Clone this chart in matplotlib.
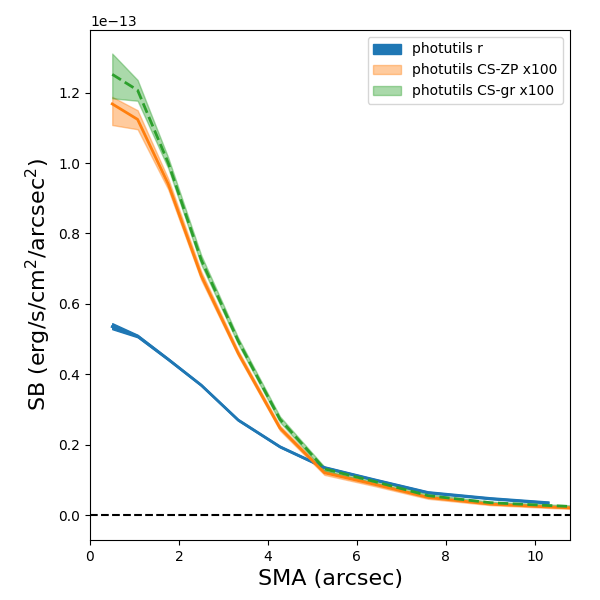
import numpy as np
import matplotlib
matplotlib.use("Agg")
import matplotlib.pyplot as plt

# semi-major axis points (arcsec)
sma_r = [0.5, 1.07, 1.76, 2.5, 3.33, 4.27, 5.27, 6.4, 7.6, 9.0, 10.3]
sma_cs = [0.5, 1.07, 1.76, 2.5, 3.33, 4.27, 5.27, 6.4, 7.6, 9.0, 10.3, 11.8]

# surface brightness, units of 1e-13 erg/s/cm^2/arcsec^2
sb_r = [0.535, 0.508, 0.442, 0.369, 0.270, 0.194, 0.135, 0.100, 0.064, 0.047, 0.035]
sb_r_lo = [0.528, 0.505, 0.440, 0.367, 0.268, 0.192, 0.133, 0.098, 0.062, 0.045, 0.033]
sb_r_hi = [0.545, 0.512, 0.445, 0.371, 0.272, 0.196, 0.137, 0.102, 0.066, 0.049, 0.037]

sb_zp = [1.168, 1.124, 0.940, 0.680, 0.460, 0.247, 0.120, 0.087, 0.050, 0.031, 0.023, 0.015]
sb_zp_lo = [1.108, 1.096, 0.925, 0.668, 0.452, 0.240, 0.114, 0.082, 0.046, 0.028, 0.020, 0.012]
sb_zp_hi = [1.188, 1.150, 0.955, 0.692, 0.468, 0.254, 0.126, 0.092, 0.054, 0.034, 0.026, 0.018]

sb_gr = [1.252, 1.207, 1.000, 0.725, 0.495, 0.272, 0.131, 0.095, 0.055, 0.035, 0.027, 0.019]
sb_gr_lo = [1.184, 1.177, 0.985, 0.712, 0.486, 0.264, 0.125, 0.090, 0.051, 0.032, 0.024, 0.016]
sb_gr_hi = [1.311, 1.236, 1.015, 0.738, 0.504, 0.280, 0.137, 0.100, 0.059, 0.038, 0.030, 0.022]

scale = 1e-13

fig = plt.figure(figsize=(6, 6), dpi=100)
ax = fig.add_axes([0.15, 0.1, 0.8, 0.85])

ax.fill_between(sma_r, np.array(sb_r_lo) * scale, np.array(sb_r_hi) * scale,
                color='C0', alpha=1.0, label='photutils r')
ax.plot(sma_r, np.array(sb_r) * scale, color='C0', lw=2)

ax.fill_between(sma_cs, np.array(sb_zp_lo) * scale, np.array(sb_zp_hi) * scale,
                color='C1', alpha=0.4, label='photutils CS-ZP x100')
ax.plot(sma_cs, np.array(sb_zp) * scale, color='C1', lw=2)

ax.fill_between(sma_cs, np.array(sb_gr_lo) * scale, np.array(sb_gr_hi) * scale,
                color='C2', alpha=0.4, label='photutils CS-gr x100')
ax.plot(sma_cs, np.array(sb_gr) * scale, color='C2', lw=2, ls='--')

ax.axhline(0, color='k', ls='--')

ax.set_xlim(0, 10.79)
ax.set_ylim(-0.071e-13, 1.378e-13)
ax.set_xlabel('SMA (arcsec)', fontsize=16)
ax.set_ylabel(r'SB (erg/s/cm$^2$/arcsec$^2$)', fontsize=16)
ax.legend(loc='upper right')

fig.savefig('out.png', dpi=100)
